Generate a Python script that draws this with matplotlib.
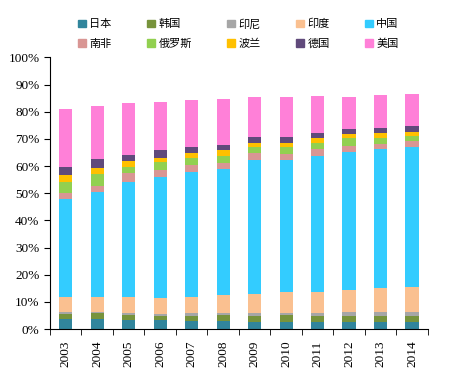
import matplotlib.pyplot as plt
import numpy as np
from matplotlib.patches import Patch
from matplotlib.ticker import FuncFormatter

plt.rcParams['font.family'] = ['Noto Sans CJK SC', 'DejaVu Sans']

years = ['2003', '2004', '2005', '2006', '2007', '2008',
         '2009', '2010', '2011', '2012', '2013', '2014']

countries = ['日本', '韩国', '印尼', '印度', '中国',
             '南非', '俄罗斯', '波兰', '德国', '美国']

# share of each country, %
japan = [3.8, 3.8, 3.2, 3.2, 3.1, 3.1, 2.8, 2.8, 2.6, 2.8, 2.8, 2.8]
korea = [1.8, 2.1, 2.1, 1.8, 1.9, 2.2, 2.1, 2.5, 2.3, 2.2, 2.2, 2.2]
indonesia = [0.8, 0.6, 0.6, 0.6, 1.0, 0.7, 1.0, 0.8, 1.2, 1.4, 1.4, 1.4]
india = [5.6, 5.5, 5.9, 5.8, 5.8, 6.6, 7.1, 7.4, 7.4, 8.1, 8.7, 9.3]
china = [36.0, 38.6, 42.5, 44.5, 46.1, 46.2, 49.2, 48.7, 50.3, 50.8, 51.1, 51.2]
south_africa = [2.2, 2.1, 3.1, 2.7, 2.5, 2.2, 2.5, 2.1, 2.5, 2.1, 1.9, 2.4]
russia = [4.1, 4.4, 2.3, 3.0, 2.7, 2.7, 2.2, 2.6, 2.3, 2.8, 2.3, 1.8]
poland = [2.4, 2.3, 2.3, 1.5, 1.8, 2.2, 1.7, 1.7, 1.8, 1.5, 1.7, 1.5]
germany = [3.1, 3.1, 2.1, 2.8, 2.2, 1.9, 2.2, 2.2, 1.9, 1.9, 2.0, 2.3]
usa = [21.2, 19.6, 19.0, 17.7, 17.2, 16.9, 14.7, 14.7, 13.6, 11.9, 12.2, 11.7]

series = [japan, korea, indonesia, india, china,
          south_africa, russia, poland, germany, usa]
colors = ['#31859C', '#77933C', '#A6A6A6', '#FAC090', '#33CCFF',
          '#D99694', '#92D050', '#FFC000', '#604A7B', '#FF80D8']

fig = plt.figure(figsize=(4.63, 3.85), dpi=100)
ax = fig.add_axes([0.108, 0.145, 0.816, 0.706])

x = np.arange(len(years))
bottom = np.zeros(len(years))
for vals, c in zip(series, colors):
    ax.bar(x, vals, 0.42, bottom=bottom, color=c, linewidth=0)
    bottom += np.array(vals)

ax.set_xlim(-0.5, len(years) - 0.5)
ax.set_ylim(0, 100)
ax.set_yticks(np.arange(0, 101, 10))
ax.yaxis.set_major_formatter(FuncFormatter(lambda v, p: f'{v:.0f}%'))

# labels at bar centres, tick marks between categories
ax.set_xticks(x)
ax.set_xticks(np.arange(-0.5, len(years)), minor=True)
ax.set_xticklabels(years, rotation=90)
ax.tick_params(axis='x', which='major', length=0, pad=8)
ax.tick_params(axis='x', which='minor', length=4)
ax.tick_params(axis='y', length=4)
for lab in ax.get_xticklabels():
    lab.set_fontfamily('Liberation Serif')
    lab.set_fontsize(9.5)
for lab in ax.get_yticklabels():
    lab.set_fontfamily('Liberation Serif')
    lab.set_fontsize(9.5)

for s in ['top', 'right']:
    ax.spines[s].set_visible(False)
ax.spines['left'].set_linewidth(0.8)
ax.spines['bottom'].set_linewidth(0.8)

# legend: row-wise order, filled column by column
order = [0, 5, 1, 6, 2, 7, 3, 8, 4, 9]
handles = [Patch(color=colors[i], label=countries[i]) for i in order]
fig.legend(handles=handles, ncol=5, loc='center', bbox_to_anchor=(0.515, 0.912),
           frameon=False, fontsize=8, handlelength=0.7, handleheight=0.7,
           handletextpad=0.3, columnspacing=3.2, labelspacing=0.85)

fig.savefig('out.png', dpi=100)
